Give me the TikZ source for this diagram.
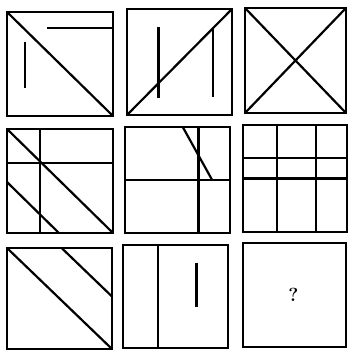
\documentclass[tikz,border=0pt]{standalone}
\usepackage{tikz}
\usetikzlibrary{positioning}
\tikzset{
  frame/.style={draw=black, line width=2.6pt, line join=miter},
  stroke/.style={draw=black, line width=2.2pt},
  cell/.style 2 args={x=#1pt, y=-#2pt},
}

\begin{document}
\begin{tikzpicture}[x=1pt, y=-1pt]

  \useasboundingbox (0,0) rectangle (349,351);

  % Row 1, box 1
  \begin{scope}[shift={(7,12)}, cell={106}{104}]
    \draw[frame] (0,0) rectangle (1,1);
    \draw[stroke] (0,0) -- (1,1);
    \draw[stroke] (0.38,0.15) -- (1,0.15);
    \draw[stroke] (0.17,0.29) -- (0.17,0.73);
  \end{scope}

  % Row 1, box 2
  \begin{scope}[shift={(127,9)}, cell={105}{106}]
    \draw[frame] (0,0) rectangle (1,1);
    \draw[stroke] (0,1) -- (1,0);
    \draw[stroke] (0.30,0.17) -- (0.30,0.84);
    \draw[stroke] (0.82,0.18) -- (0.82,0.83);
  \end{scope}

  % Row 1, box 3
  \begin{scope}[shift={(245,8)}, cell={101}{105}]
    \draw[frame] (0,0) rectangle (1,1);
    \draw[stroke] (0,0) -- (1,1);
    \draw[stroke] (0,1) -- (1,0);
  \end{scope}

  % Row 2, box 1
  \begin{scope}[shift={(7,129)}, cell={106}{104}]
    \draw[frame] (0,0) rectangle (1,1);
    \draw[stroke] (0.31,0) -- (0.31,1);
    \draw[stroke] (0,0.33) -- (1,0.33);
    \draw[stroke] (0,0) -- (1,1);
    \draw[stroke] (0,0.51) -- (0.49,1);
  \end{scope}

  % Row 2, box 2
  \begin{scope}[shift={(125,127)}, cell={105}{106}]
    \draw[frame] (0,0) rectangle (1,1);
    \draw[stroke] (0.70,0) -- (0.70,1);
    \draw[stroke] (0,0.50) -- (1,0.50);
    \draw[stroke] (0.55,0) -- (0.83,0.50);
  \end{scope}

  % Row 2, box 3
  \begin{scope}[shift={(243,125)}, cell={104}{107}]
    \draw[frame] (0,0) rectangle (1,1);
    \draw[stroke] (0.33,0) -- (0.33,1);
    \draw[stroke] (0.70,0) -- (0.70,1);
    \draw[stroke] (0,0.31) -- (1,0.31);
    \draw[stroke] (0,0.50) -- (1,0.50);
  \end{scope}

  % Row 3, box 1
  \begin{scope}[shift={(7,248)}, cell={105}{101}]
    \draw[frame] (0,0) rectangle (1,1);
    \draw[stroke] (0,0) -- (1,1);
    \draw[stroke] (0.52,0) -- (1,0.48);
  \end{scope}

  % Row 3, box 2
  \begin{scope}[shift={(123,245)}, cell={105}{103}]
    \draw[frame] (0,0) rectangle (1,1);
    \draw[stroke] (0.33,0) -- (0.33,1);
    \draw[stroke] (0.70,0.17) -- (0.70,0.60);
  \end{scope}

  % Row 3, box 3
  \begin{scope}[shift={(243,243)}, cell={103}{104}]
    \draw[frame] (0,0) rectangle (1,1);
    \node[font=\fontsize{19}{19}\selectfont\bfseries] (qmark) at (0.49,0.50) {?};
  \end{scope}

\end{tikzpicture}
\end{document}
